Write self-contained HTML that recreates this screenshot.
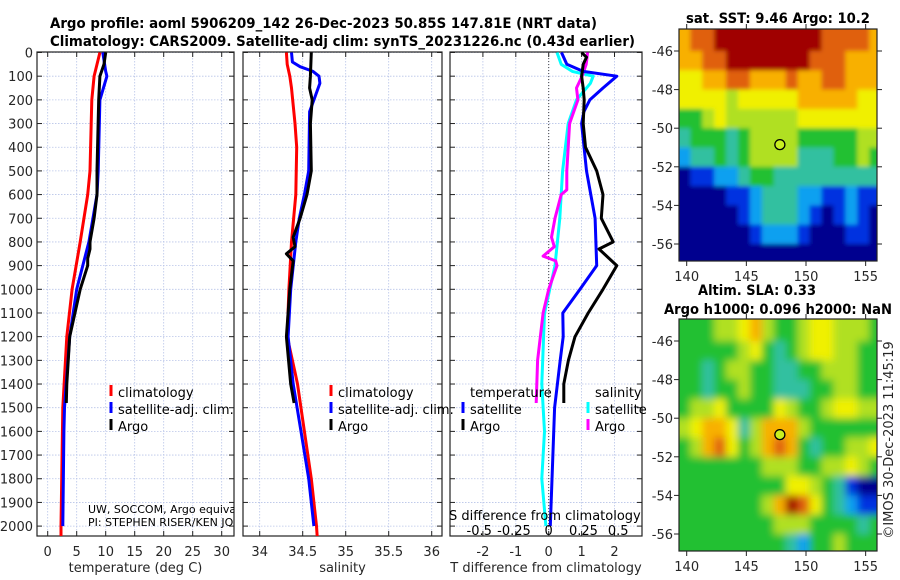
<!DOCTYPE html>
<html><head><meta charset="utf-8">
<style>
html,body{margin:0;padding:0;background:#fff;}
svg{display:block;font-family:"DejaVu Sans","Liberation Sans",sans-serif;}
.tk{font-size:13px;fill:#262626;}
.ttl{font-size:14px;font-weight:bold;fill:#000;}
.lg{font-size:13px;fill:#000;}
</style></head>
<body>
<svg id="fig" width="900" height="580" xmlns="http://www.w3.org/2000/svg">
<defs>
<clipPath id="c1"><rect x="37" y="52" width="197" height="484"/></clipPath>
<clipPath id="c2"><rect x="243" y="52" width="199" height="484"/></clipPath>
<clipPath id="c3"><rect x="450" y="52" width="192" height="484"/></clipPath>
<clipPath id="cm1"><rect x="679" y="29" width="198" height="232"/></clipPath>
<clipPath id="cm2"><rect x="679" y="319" width="198" height="232"/></clipPath>
<filter id="blur" x="-5%" y="-5%" width="110%" height="110%"><feGaussianBlur stdDeviation="4"/></filter>
<filter id="blur2" x="-5%" y="-5%" width="110%" height="110%"><feGaussianBlur stdDeviation="2"/></filter>
</defs>
<text class="ttl" x="50" y="28" textLength="547" lengthAdjust="spacingAndGlyphs">Argo profile: aoml 5906209_142 26-Dec-2023 50.85S 147.81E (NRT data)</text>
<text class="ttl" x="50" y="46" textLength="585" lengthAdjust="spacingAndGlyphs">Climatology: CARS2009. Satellite-adj clim: synTS_20231226.nc (0.43d earlier)</text>
<g id="root"></g>
</svg>
<script>
// ---- data ----
const depthTicks = [0,100,200,300,400,500,600,700,800,900,1000,1100,1200,1300,1400,1500,1600,1700,1800,1900,2000];
const tempTicks = [0,5,10,15,20,25,30];
const salTicks = [34,34.5,35,35.5,36];
const salTickLabels = ["34","34.5","35","35.5","36"];
const diffTicks = [-2,-1,0,1,2];
const sdiffTicks = [-0.5,-0.25,0,0.25,0.5];
const sdiffTickLabels = ["-0.5","-0.25","0","0.25","0.5"];

const climTDepth = [0,100,200,500,600,800,1000,1200,1500,2000,2050];
const climT =      [9.0,8.0,7.6,7.3,6.9,5.6,4.2,3.3,2.6,2.3,2.3];
const satTDepth = [0,80,100,200,500,600,800,1000,1200,1500,1600,2000];
const satT =      [9.5,10.0,10.2,9.0,8.7,8.5,7.1,5.0,3.8,2.9,2.8,2.6];
const argoTDepth = [0,50,100,200,500,600,700,800,830,870,900,1000,1200,1400,1480];
const argoT =      [10.0,9.7,9.0,8.8,8.5,8.5,8.0,7.3,7.3,6.9,6.9,5.6,3.8,3.3,3.2];

const climSDepth = [0,50,100,150,300,400,600,800,1000,1200,1350,1400,1600,1800,2000,2050];
const climS =      [34.31,34.32,34.35,34.37,34.41,34.43,34.42,34.37,34.34,34.32,34.41,34.44,34.52,34.60,34.66,34.67];
const satSDepth = [0,40,60,80,100,130,200,250,500,600,700,800,1000,1200,1400,1600,1800,2000];
const satS =      [34.37,34.38,34.47,34.62,34.69,34.70,34.63,34.58,34.57,34.52,34.46,34.42,34.36,34.33,34.39,34.48,34.57,34.63];
const argoSDepth = [0,100,150,200,300,500,600,700,780,820,850,880,1000,1200,1400,1480];
const argoS =      [34.60,34.59,34.58,34.61,34.59,34.60,34.55,34.47,34.39,34.41,34.31,34.39,34.35,34.31,34.36,34.40];

const dTsatDepth = [0,50,80,100,150,200,250,300,500,700,900,1000,1100,1200,1300,1500,2000];
const dTsat =      [0.39,0.55,1.05,2.07,1.65,1.25,1.07,1.0,1.15,1.41,1.46,0.95,0.43,0.44,0.35,0.18,0.05];
const dTargoDepth = [0,20,50,100,150,200,300,400,500,600,700,800,830,900,1000,1100,1200,1300,1400,1480];
const dTargo =      [1.0,1.15,1.05,1.0,1.05,1.08,1.05,1.12,1.46,1.65,1.6,1.96,1.53,2.07,1.65,1.2,0.8,0.6,0.46,0.46];
const dSsatDepth = [0,50,80,100,130,200,300,500,700,900,1100,1400,1600,1800,2000];
const dSsat =      [0.06,0.09,0.17,0.32,0.30,0.20,0.14,0.10,0.08,0.045,-0.03,-0.05,-0.03,-0.05,-0.02];
const dSargoDepth = [0,50,100,150,200,300,500,580,600,700,780,820,860,880,900,1000,1100,1300,1480];
const dSargo =      [0.28,0.27,0.24,0.20,0.21,0.15,0.13,0.13,0.09,0.045,0.02,0.04,-0.04,0.05,0.06,0.0,-0.04,-0.08,-0.09];

// map grids (jet palette index 0..9), rows = lat -45..-57, cols = lon 139.3..155.9
const mapPalette = ["#00008f","#0030e0","#10a0f0","#30c0a0","#20c030","#b0e020","#f0f000","#f8b000","#e06010","#a00000"];
const sstGrid = [
"78899999999988887",
"77889999999888777",
"66778877787788777",
"66665666667777766",
"44565555556666666",
"34443455554444455",
"23343455553334454",
"01122344333333333",
"00001123332211211",
"00000123332101210",
"00000012221000110",
"00000000000000000"];
const slaGrid = [
"44455675445665554",
"44444564345665544",
"44345544334455544",
"44344544333445544",
"45564444654456655",
"56776357775444444",
"45786457874344556",
"44444445554455654",
"44444444466543100",
"44444445798643211",
"44444444555444434",
"44444444432445444"];
const mapLonTicks = [140,145,150,155];
const mapLatTicks = [-46,-48,-50,-52,-54,-56];
const argoLon = 147.81, argoLat = -50.85;

// ---- drawing ----
const NS="http://www.w3.org/2000/svg";
const root=document.getElementById('root');
function mk(tag,attrs,parent){const e=document.createElementNS(NS,tag);for(const k in attrs)e.setAttribute(k,attrs[k]);(parent||root).appendChild(e);return e;}
const yD = d => 52.5 + d*0.2368;
const xT = t => 47.7 + t*5.8;
const xS = s => 259.7 + (s-34)*86;
const xDT = v => 548.7 + v*32.9;
const xDS = v => 548.7 + v*139;

function panel(x0,w,name,ticks,xf,labels,xtitle){
  const g=mk('g',{});
  
  
  depthTicks.forEach(d=>{mk('line',{x1:x0,x2:x0+w,y1:yD(d),y2:yD(d),stroke:'#b8c4e8','stroke-width':0.8,'stroke-dasharray':'1.5,1.5'},g);
    mk('line',{x1:x0,x2:x0+5,y1:yD(d),y2:yD(d),stroke:'#222'},g);mk('line',{x1:x0+w-5,x2:x0+w,y1:yD(d),y2:yD(d),stroke:'#222'},g);});
  ticks.forEach((t,i)=>{const x=xf(t);mk('line',{x1:x,x2:x,y1:52,y2:536,stroke:'#b8c4e8','stroke-width':0.8,'stroke-dasharray':'1.5,1.5'},g);
    mk('line',{x1:x,x2:x,y1:536,y2:531,stroke:'#222'},g);mk('line',{x1:x,x2:x,y1:52,y2:57,stroke:'#222'},g);
    const tx=mk('text',{x:x,y:556,'text-anchor':'middle',class:'tk'},g);tx.textContent=labels[i];
    
    });
  mk('rect',{x:x0,y:52,width:w,height:484,fill:'none',stroke:'#222','stroke-width':1.2},g);
  const t=mk('text',{x:x0+w/2,y:572,'text-anchor':'middle',class:'tk'},g);t.textContent=xtitle;
  
  
  return g;
}
panel(37,197,'temperature-panel',tempTicks,xT,tempTicks.map(String),'temperature (deg C)');
panel(243,199,'salinity-panel',salTicks,xS,salTickLabels,'salinity');
panel(450,192,'difference-panel',diffTicks,xDT,diffTicks.map(String),'T difference from climatology');
depthTicks.forEach(d=>{const t=mk('text',{x:33,y:yD(d)+5,'text-anchor':'end',class:'tk'});t.textContent=d;
  
  });
mk('line',{x1:548.7,x2:548.7,y1:52,y2:536,stroke:'#444','stroke-dasharray':'1,2'});

function line(dep,vals,xf,color,clip,name,w){
  const pts=dep.map((d,i)=>xf(vals[i]).toFixed(1)+','+yD(d).toFixed(1)).join(' ');
  const p=mk('polyline',{points:pts,fill:'none',stroke:color,'stroke-width':w||3,'stroke-linejoin':'round','clip-path':'url(#'+clip+')'});
  
  
}
line(climTDepth,climT,xT,'#ff0000','c1','temp-climatology-line');
line(satTDepth,satT,xT,'#0000ff','c1','temp-satellite-line');
line(argoTDepth,argoT,xT,'#000','c1','temp-argo-line');
line(climSDepth,climS,xS,'#ff0000','c2','sal-climatology-line');
line(satSDepth,satS,xS,'#0000ff','c2','sal-satellite-line');
line(argoSDepth,argoS,xS,'#000','c2','sal-argo-line');
line(dSsatDepth,dSsat,xDS,'#00ffff','c3','sdiff-satellite-line');
line(dSargoDepth,dSargo,xDS,'#ff00ff','c3','sdiff-argo-line');
line(dTsatDepth,dTsat,xDT,'#0000ff','c3','tdiff-satellite-line');
line(dTargoDepth,dTargo,xDT,'#000','c3','tdiff-argo-line');

function legend(mx,y,color,label,name){
  mk('rect',{x:mx-1.5,y:y-12,width:3,height:11,fill:color});
  const t=mk('text',{x:mx+7,y:y,class:'lg'});t.textContent=label;
  
  
}
legend(111,397,'#ff0000','climatology','legend-climatology-temp');
legend(111,414,'#0000ff','satellite-adj. clim.','legend-satellite-temp');
legend(111,431,'#000','Argo','legend-argo-temp');
legend(331,397,'#ff0000','climatology','legend-climatology-sal');
legend(331,414,'#0000ff','satellite-adj. clim.','legend-satellite-sal');
legend(331,431,'#000','Argo','legend-argo-sal');
const lt1=mk('text',{x:470,y:397,class:'lg'});lt1.textContent='temperature';


const lt2=mk('text',{x:595,y:397,class:'lg'});lt2.textContent='salinity';


legend(463,414,'#0000ff','satellite','legend-tdiff-satellite');
legend(463,431,'#000','Argo','legend-tdiff-argo');
legend(588,414,'#00ffff','satellite','legend-sdiff-satellite');
legend(588,431,'#ff00ff','Argo','legend-sdiff-argo');
const c1g=mk('g',{'clip-path':'url(#c1)'});
const n1=mk('text',{x:88,y:513,style:'font-size:11px'},c1g);n1.textContent='UW, SOCCOM, Argo equivalent';


const n2=mk('text',{x:88,y:526,style:'font-size:11px'},c1g);n2.textContent='PI: STEPHEN RISER/KEN JOHNSON';


const sdt=mk('text',{x:449,y:520,class:'lg'});sdt.textContent='S difference from climatology';


sdiffTicks.forEach((v,i)=>{const t=mk('text',{x:xDS(v),y:535,'text-anchor':'middle',class:'lg'});t.textContent=sdiffTickLabels[i];
  
  });

// maps
const mx = lon => 686.7 + (lon-140)*11.93;
function drawMap(grid,top,name,clip,filt){
  const my = lat => top + 22 + (-46-lat)*19.3;
  const outer=mk('g',{'clip-path':'url(#'+clip+')'});
  
  
  const g=mk('g',{filter:'url(#'+filt+')'},outer);
  grid.forEach((row,r)=>{for(let c=0;c<row.length;c++){
    const lon=139.3+c, lat=-45-r;
    mk('rect',{x:mx(lon)-(c==0?15:0),y:my(lat)-(r==0?15:0),width:12.5+(c==0||c==row.length-1?15:0),height:(r==grid.length-1?40:19.8)+(r==0?15:0),fill:mapPalette[+row[c]]},g);}});
  const m=mk('circle',{cx:mx(argoLon),cy:my(argoLat),r:5,fill:'#c8f020',stroke:'#000','stroke-width':1.3});
  
  
  mk('rect',{x:679,y:top,width:198,height:232,fill:'none',stroke:'#222','stroke-width':1.2});
  mapLatTicks.forEach(l=>{const y=my(l);mk('line',{x1:674,x2:679,y1:y,y2:y,stroke:'#222'});mk('line',{x1:877,x2:882,y1:y,y2:y,stroke:'#222'});
    const t=mk('text',{x:673,y:y+5,'text-anchor':'end',class:'tk'});t.textContent=l;
    
    });
  mapLonTicks.forEach(l=>{const x=mx(l);mk('line',{x1:x,x2:x,y1:top+232,y2:top+237,stroke:'#222'});mk('line',{x1:x,x2:x,y1:top,y2:top-5,stroke:'#222'});
    const t=mk('text',{x:x,y:top+252,'text-anchor':'middle',class:'tk'});t.textContent=l;
    
    });
}
drawMap(sstGrid,29,'sst-map','cm1','blur2');
drawMap(slaGrid,319,'sla-map','cm2','blur');
function ttl(x,y,s,name,len){const t=mk('text',{x:x,y:y,'text-anchor':'middle',class:'ttl',textLength:len,lengthAdjust:'spacingAndGlyphs'});t.textContent=s;
  
  }
ttl(778,23,'sat. SST: 9.46 Argo: 10.2','sst-map-title',184);
ttl(757,295,'Altim. SLA: 0.33','sla-map-title',118);
ttl(778,314,'Argo h1000: 0.096 h2000: NaN','sla-map-subtitle',228);
const cr=mk('text',{x:0,y:0,'text-anchor':'middle',class:'tk',transform:'translate(893,440) rotate(-90)'});cr.textContent='©IMOS 30-Dec-2023 11:45:19';


</script>
</body></html>
